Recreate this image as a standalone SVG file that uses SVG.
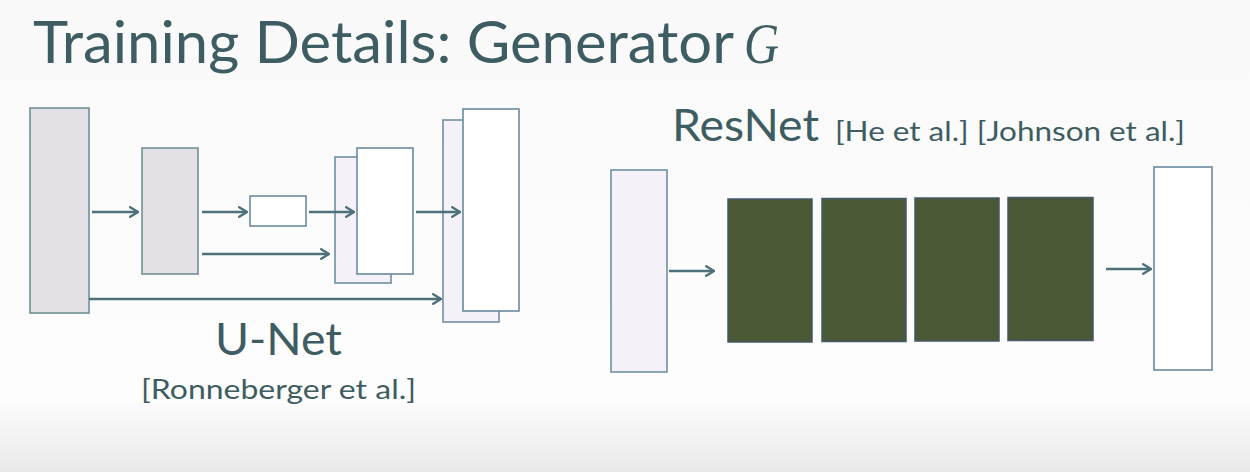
<svg xmlns="http://www.w3.org/2000/svg" width="1250" height="472" viewBox="0 0 1250 472">
  <defs>
    <linearGradient id="bg" x1="0" y1="0" x2="0" y2="1">
      <stop offset="0" stop-color="#f9f9f9"/>
      <stop offset="0.84" stop-color="#fdfdfd"/>
      <stop offset="1" stop-color="#e9e9e9"/>
    </linearGradient>
    <marker id="ah" viewBox="0 0 10 10" refX="9" refY="5" markerWidth="4.6" markerHeight="4.6" orient="auto" markerUnits="strokeWidth">
      <polyline points="2.5,1 9,5 2.5,9" fill="none" stroke="#4e7078" stroke-width="2" stroke-linejoin="round" stroke-linecap="round"/>
    </marker>
    <style>
      .txt { font-family: Lato, "Open Sans", "Liberation Sans", sans-serif; fill: #3d5d62; }
      .gray { fill: #e3e1e5; stroke: #6f9093; stroke-width: 1.6; }
      .lav { fill: #f4f1f8; stroke: #6f8fa3; stroke-width: 1.6; }
      .wht { fill: #ffffff; stroke: #6a8aa0; stroke-width: 1.6; }
      .dark { fill: #4a5836; stroke: #43586a; stroke-width: 1.5; }
      .arr { fill: none; stroke: #4e7078; stroke-width: 2.6; marker-end: url(#ah); }
    </style>
  </defs>
  <rect width="1250" height="472" fill="url(#bg)"/>

  <g id="title">
    <text class="txt" x="33" y="63" font-size="58" textLength="701" lengthAdjust="spacingAndGlyphs">Training Details: Generator</text>
    <text x="744" y="63" font-size="56" font-style="italic" font-family="'Liberation Serif', serif" fill="#3d5d62" textLength="35" lengthAdjust="spacingAndGlyphs">G</text>
  </g>

  <!-- U-Net nodes -->
  <g id="unet-enc1"><rect class="gray" x="30" y="108" width="59" height="205"/></g>
  <g id="unet-enc2"><rect class="gray" x="142" y="148" width="56" height="126"/></g>
  <g id="unet-bottleneck"><rect class="wht" x="250" y="196" width="56" height="30"/></g>
  <g id="unet-dec2">
    <rect class="lav" x="335" y="157" width="56" height="126"/>
    <rect class="wht" x="357" y="148" width="56" height="126"/>
  </g>
  <g id="unet-dec1">
    <rect class="lav" x="443" y="120" width="56" height="202"/>
    <rect class="wht" x="463" y="109" width="56" height="202"/>
  </g>
  <g id="unet-label">
    <text class="txt" x="215" y="355" font-size="45" textLength="127" lengthAdjust="spacingAndGlyphs">U-Net</text>
    <text class="txt" x="141" y="399" font-size="27" textLength="275" lengthAdjust="spacingAndGlyphs">[Ronneberger et al.]</text>
  </g>

  <!-- ResNet nodes -->
  <g id="resnet-label">
    <text class="txt" x="672" y="141" font-size="45" textLength="147" lengthAdjust="spacingAndGlyphs">ResNet</text>
    <text class="txt" x="835" y="141" font-size="26" textLength="350" lengthAdjust="spacingAndGlyphs">[He et al.] [Johnson et al.]</text>
  </g>
  <g id="resnet-in"><rect class="lav" x="611" y="170" width="56" height="202"/></g>
  <g id="resnet-block1"><rect class="dark" x="728" y="199" width="84" height="143"/></g>
  <g id="resnet-block2"><rect class="dark" x="822" y="198.5" width="84" height="143"/></g>
  <g id="resnet-block3"><rect class="dark" x="915" y="198" width="84" height="143"/></g>
  <g id="resnet-block4"><rect class="dark" x="1008" y="197.5" width="85" height="143"/></g>
  <g id="resnet-out"><rect class="wht" x="1154" y="167" width="58" height="203"/></g>

  <g id="connectors">
    <line class="arr" x1="92" y1="212" x2="138" y2="212"/>
    <line class="arr" x1="202" y1="212" x2="247" y2="212"/>
    <line class="arr" x1="309" y1="212" x2="354" y2="212"/>
    <line class="arr" x1="416" y1="212" x2="460" y2="212"/>
    <line class="arr" x1="202" y1="254" x2="329" y2="254"/>
    <line class="arr" x1="89" y1="299" x2="441" y2="299"/>
    <line class="arr" x1="669" y1="271" x2="714" y2="271"/>
    <line class="arr" x1="1106" y1="269" x2="1151" y2="269"/>
  </g>
</svg>
